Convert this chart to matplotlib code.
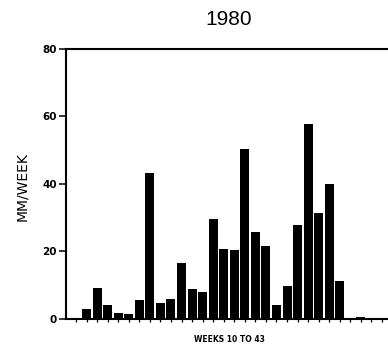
# Weekly rainfall, 1980
import numpy as np
import matplotlib
matplotlib.use('Agg')
import matplotlib.pyplot as plt

# data (mm per week)
weeks = list(range(10, 40))
rain = [0.0, 3.1, 9.3, 4.1, 1.7, 1.5, 5.6, 43.4, 4.6, 5.9,
        16.7, 9.0, 8.0, 29.7, 20.8, 20.5, 50.3, 25.8, 21.5, 4.2,
        9.9, 27.8, 57.8, 31.5, 39.9, 11.3, 0.4, 0.6, 0.2, 0.2]
yticks = [0, 20, 40, 60, 80]

fig = plt.figure(figsize=(3.88, 3.48), dpi=100)
# axes runs slightly past the right edge of the picture, like the scan
ax = fig.add_axes([0.1701, 0.0833, 0.8402, 0.776])

ax.bar(weeks, rain, width=0.85, color='black', edgecolor='none')

ax.set_xlim(9.05, 39.95)
ax.set_ylim(0, 80)

ax.set_xticks(weeks)
ax.set_xticklabels([])
ax.tick_params(axis='x', direction='out', length=2.2, width=0.9)
ax.set_yticks(yticks)
ax.set_yticklabels([str(t) for t in yticks], fontsize=7.5, fontweight='bold')
ax.tick_params(axis='y', direction='out', length=5, width=1.1, pad=1.5)

for side in ['left', 'bottom', 'top']:
    ax.spines[side].set_linewidth(1.5)
ax.spines['right'].set_visible(False)

# labels
fig.text(229/388, 1 - 25/348, '1980', ha='center', va='baseline',
         fontsize=15, family='Liberation Sans')
fig.text(22.5/388, 1 - 187/348, 'MM/WEEK', ha='center', va='center',
         rotation=90, fontsize=10)
fig.text(229/388, 1 - 340/348, 'WEEKS 10 TO 43', ha='center', va='center',
         fontsize=5.5, fontweight='bold')

plt.savefig('out.png', dpi=100)
